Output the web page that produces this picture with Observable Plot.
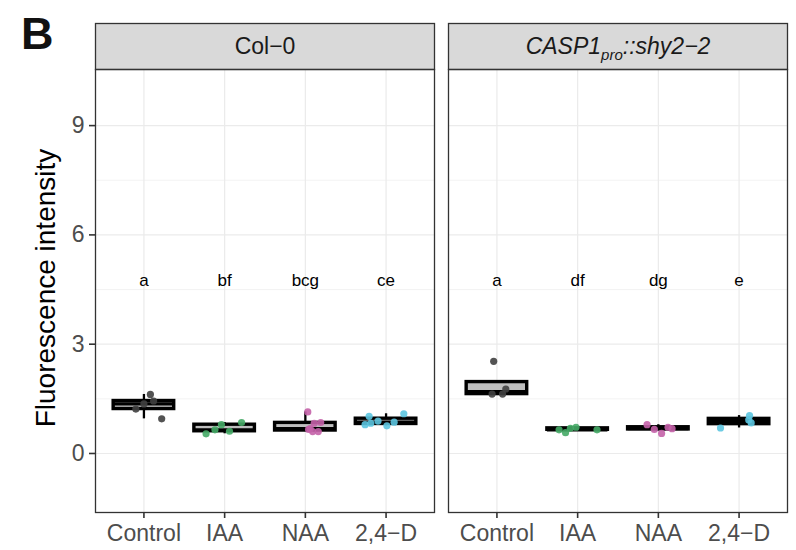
<!DOCTYPE html>
<html>
<head>
<meta charset="utf-8">
<script src="https://cdn.jsdelivr.net/npm/d3@7"></script>
<script src="https://cdn.jsdelivr.net/npm/@observablehq/plot@0.6"></script>
<style>
  html, body { margin: 0; padding: 0; background: white; }
  #wrap { position: relative; width: 796px; height: 550px; }
  #tag { position: absolute; left: 21px; top: 11px; font: bold 45px "Liberation Sans", Arial, sans-serif; line-height: 45px; color: #111; }
</style>
</head>
<body>
<div id="wrap"><div id="tag">B</div></div>
<script>
// ---- data ----
const genotypes = ["Col−0", "CASP1pro::shy2−2"];
const treatments = ["Control", "IAA", "NAA", "2,4−D"];
const pointColors = ["#404040", "#45aa66", "#c462a8", "#5cc5e0"];

// Fluorescence intensity per treatment (Control, IAA, NAA, 2,4-D)
const col0Values = [
  [1.62, 0.95, 1.22, 1.36, 1.44],
  [0.54, 0.65, 0.79, 0.61, 0.85],
  [1.14, 0.83, 0.85, 0.68, 0.60, 0.60, 0.66],
  [0.79, 1.02, 0.83, 0.89, 0.76, 0.86, 1.09]
];
const col0Jitter = [
  [0.08, 0.22, -0.10, 0.00, 0.12],
  [-0.23, -0.12, -0.04, 0.06, 0.21],
  [0.03, 0.11, 0.19, 0.06, 0.09, 0.16, 0.04],
  [-0.26, -0.21, -0.19, -0.10, 0.01, 0.10, 0.22]
];
const caspValues = [
  [2.53, 1.63, 1.63, 1.77],
  [0.65, 0.57, 0.69, 0.72, 0.65],
  [0.79, 0.66, 0.55, 0.72, 0.68],
  [0.70, 1.04, 0.92, 0.84]
];
const caspJitter = [
  [-0.04, -0.06, 0.07, 0.11],
  [-0.23, -0.15, -0.09, -0.02, 0.24],
  [-0.14, -0.05, 0.04, 0.12, 0.17],
  [-0.23, 0.13, 0.12, 0.15]
];
const col0Letters = ["a", "bf", "bcg", "ce"];
const caspLetters = ["a", "df", "dg", "e"];
const letterY = 4.75;
const yTicks = [0, 3, 6, 9];
const yMinor = [1.5, 4.5, 7.5];

// ---- build tables ----
const rows = [];
const stats = [];
const letters = [];
[[genotypes[0], col0Values, col0Jitter, col0Letters],
 [genotypes[1], caspValues, caspJitter, caspLetters]].forEach(([g, vals, jit, lets]) => {
  vals.forEach((v, i) => {
    v.forEach((value, j) => rows.push({genotype: g, ti: i + 1, value, jitter: jit[i][j]}));
    const s = v.slice().sort(d3.ascending);
    const q1 = d3.quantile(s, 0.25), med = d3.quantile(s, 0.5), q3 = d3.quantile(s, 0.75);
    const iqr = q3 - q1;
    const lo = d3.min(s.filter(d => d >= q1 - 1.5 * iqr));
    const hi = d3.max(s.filter(d => d <= q3 + 1.5 * iqr));
    stats.push({genotype: g, ti: i + 1, q1, med, q3, lo, hi});
    letters.push({genotype: g, ti: i + 1, text: lets[i]});
  });
});

const half = 0.375;
const chart = Plot.plot({
  width: 796,
  height: 550,
  marginLeft: 94,
  marginRight: 9,
  marginTop: 69,
  marginBottom: 38,
  style: {fontFamily: "'Liberation Sans', Arial, sans-serif", background: "white"},
  fx: {domain: genotypes, axis: null, paddingInner: 0.04, paddingOuter: 0},
  x: {domain: [0.4, 4.6]},
  y: {domain: [-1.62, 10.54]},
  marks: [
    Plot.gridY(yMinor, {stroke: "#ebebeb", strokeOpacity: 1, strokeWidth: 0.6}),
    Plot.gridY(yTicks, {stroke: "#ebebeb", strokeOpacity: 1, strokeWidth: 1.2}),
    Plot.gridX([1, 2, 3, 4], {stroke: "#ebebeb", strokeOpacity: 1, strokeWidth: 1.2}),
    Plot.frame({fill: "#d9d9d9", stroke: "#333", strokeWidth: 1.3, insetTop: -46, insetBottom: 443}),
    Plot.text(genotypes, {fx: d => d, text: d => d, frameAnchor: "top", lineAnchor: "middle", dy: -23, fontSize: 23, fill: "#1a1a1a"}),
    Plot.ruleX(stats, {fx: "genotype", x: "ti", y1: "lo", y2: "q1", stroke: "black", strokeWidth: 2.3}),
    Plot.ruleX(stats, {fx: "genotype", x: "ti", y1: "q3", y2: "hi", stroke: "black", strokeWidth: 2.3}),
    Plot.rect(stats, {fx: "genotype", x1: d => d.ti - half, x2: d => d.ti + half, y1: "q1", y2: "q3", fill: "#bebebe", stroke: "black", strokeWidth: 3.4, inset: 0}),
    Plot.ruleY(stats, {fx: "genotype", x1: d => d.ti - half, x2: d => d.ti + half, y: "med", stroke: "black", strokeWidth: 3.2}),
    Plot.dot(rows, {fx: "genotype", x: d => d.ti + d.jitter, y: "value", r: 3.6, fill: d => pointColors[d.ti - 1], fillOpacity: 0.9, stroke: "none"}),
    Plot.text(letters, {fx: "genotype", x: "ti", y: () => letterY, text: "text", fontSize: 17, fill: "black", lineAnchor: "middle"}),
    Plot.frame({stroke: "#333", strokeWidth: 1.3}),
    Plot.axisX([1, 2, 3, 4], {tickFormat: i => treatments[i - 1], tickSize: 6, tickPadding: 6, fontSize: 23, stroke: "#333", strokeWidth: 1.6, fill: "#4d4d4d", label: null}),
    Plot.axisY(yTicks, {tickSize: 6, tickPadding: 5, fontSize: 23, stroke: "#333", strokeWidth: 1.6, fill: "#4d4d4d", label: null}),
    Plot.text([genotypes[0]], {fx: d => d, text: () => "Fluorescence intensity", frameAnchor: "left", textAnchor: "middle", rotate: -90, dx: -49, dy: -3, fontSize: 28, fill: "black", lineAnchor: "middle"})
  ]
});

// italic strip label with subscript
d3.select(chart).selectAll("text").filter(function() { return this.textContent === genotypes[1]; }).each(function() {
  const t = d3.select(this);
  t.text("").attr("font-style", "italic");
  t.append("tspan").text("CASP1");
  t.append("tspan").attr("font-size", 15).attr("dy", 6).text("pro");
  t.append("tspan").attr("dy", -6).text("::shy2−2");
});

document.getElementById("wrap").prepend(chart);
</script>
</body>
</html>
